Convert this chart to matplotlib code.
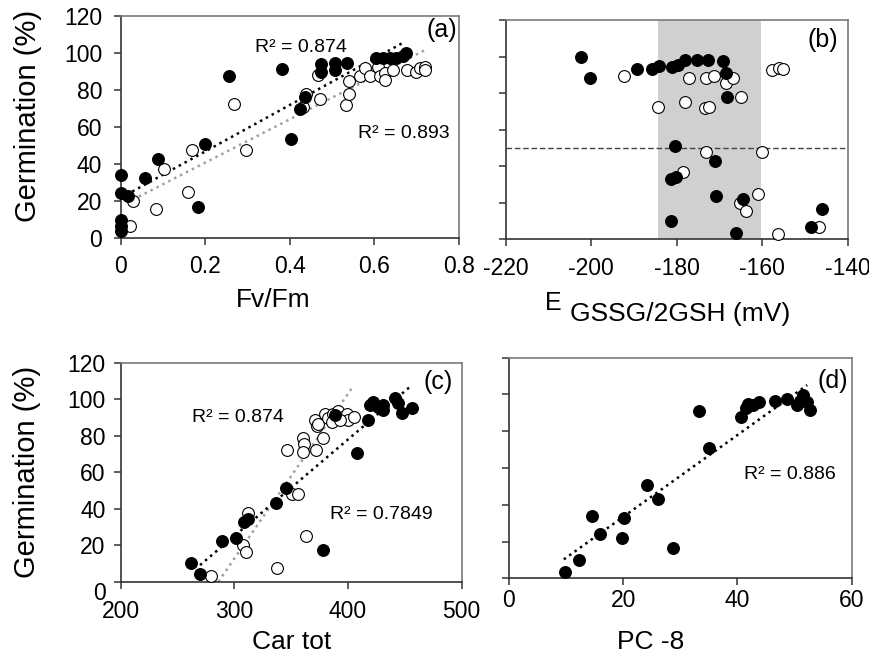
import matplotlib
matplotlib.use("Agg")
import matplotlib.pyplot as plt
import matplotlib.transforms as mtransforms

plt.rcParams['font.family'] = ['Liberation Sans', 'DejaVu Sans']
plt.rcParams['axes.unicode_minus'] = False

# ---- panel (a): Fv/Fm
a_filled_x = [0.0, 0.0, 0.016, 0.0, 0.0, 0.0, 0.057, 0.088, 0.199, 0.183, 0.256, 0.382, 0.402,
              0.423, 0.435, 0.474, 0.474, 0.506, 0.506, 0.534, 0.603, 0.620, 0.636, 0.652, 0.668, 0.675]
a_filled_y = [33.8, 24.3, 22.5, 9.9, 6.3, 3.6, 32.4, 42.6, 50.9, 16.7, 87.6, 91.2, 53.6,
              69.6, 76.1, 93.9, 90.0, 94.5, 90.9, 94.5, 97.5, 97.2, 97.2, 97.5, 98.4, 99.9]
a_open_x = [0.021, 0.028, 0.083, 0.102, 0.159, 0.169, 0.268, 0.297, 0.438, 0.431, 0.467, 0.472, 0.532, 0.540,
            0.540, 0.565, 0.577, 0.589, 0.608, 0.612, 0.624, 0.624, 0.644, 0.677, 0.698, 0.707, 0.719, 0.719]
a_open_y = [6.7, 20.2, 15.8, 37.2, 24.8, 47.3, 72.3, 47.7, 77.7, 70.7, 88.2, 75.0, 72.0, 77.9,
            84.9, 87.6, 91.8, 87.6, 92.7, 87.6, 89.1, 85.5, 90.9, 90.9, 90.0, 91.8, 92.7, 90.9]
a_fit_black_x = [0.013, 0.668]
a_fit_black_y = [23.4, 105.6]
a_fit_gray_x = [0.028, 0.723]
a_fit_gray_y = [20.7, 102.0]

# ---- panel (b): E GSSG/2GSH
b_filled_x = [-202.5, -200.3, -189.4, -185.9, -184.1, -181.2, -179.8, -178.1, -175.4, -172.7, -169.3, -168.6,
              -168.2, -180.5, -171.1, -181.4, -180.1, -170.9, -164.5, -181.4, -166.1, -148.6, -146.0]
b_filled_y = [99.9, 88.1, 93.2, 93.0, 95.0, 94.5, 95.4, 98.1, 98.1, 98.1, 97.8, 91.2,
              77.7, 51.2, 42.9, 33.0, 33.9, 23.9, 21.9, 10.2, 3.3, 6.9, 16.4]
b_open_x = [-192.3, -184.4, -178.1, -177.2, -173.5, -172.5, -173.1, -171.4, -168.6, -166.8, -164.9,
            -178.5, -173.1, -160.0, -165.3, -163.9, -161.0, -157.7, -156.1, -155.2, -156.3, -146.8]
b_open_y = [89.4, 72.2, 75.3, 88.1, 71.7, 72.2, 88.5, 89.4, 85.7, 88.1, 78.1,
            37.0, 48.0, 48.0, 19.7, 15.7, 24.8, 92.6, 93.9, 93.2, 2.7, 6.6]
b_band = [-184.3, -160.3]
b_threshold = 50

# ---- panel (c): Car tot
c_filled_x = [261.6, 269.8, 288.9, 301.5, 308.8, 312.3, 336.7, 345.2, 377.7, 388.6, 408.2,
              417.9, 419.4, 422.3, 426.7, 431.1, 431.1, 441.3, 444.3, 447.2, 456.0]
c_filled_y = [10.0, 4.2, 22.3, 24.1, 32.5, 34.3, 43.3, 51.1, 17.4, 91.3, 70.3,
              88.6, 96.8, 98.6, 95.5, 94.1, 96.8, 100.5, 97.7, 92.2, 95.0]
c_open_x = [279.2, 307.3, 310.3, 312.3, 337.8, 363.0, 346.0, 350.4, 355.7, 360.7, 361.3, 360.7, 371.8, 378.3,
            371.0, 372.4, 373.9, 379.8, 382.7, 387.1, 391.5, 395.9, 398.8, 400.3, 405.3, 385.7, 393.0]
c_open_y = [3.1, 20.1, 16.1, 37.4, 7.3, 25.0, 72.1, 48.0, 48.0, 78.5, 75.4, 71.2, 72.1, 78.5,
            88.6, 85.3, 86.4, 91.7, 89.5, 91.7, 93.7, 90.4, 91.7, 88.6, 90.0, 87.7, 88.6]
c_fit_black_x = [269.8, 454.5]
c_fit_black_y = [9.1, 106.8]
c_fit_gray_x = [285.9, 403.2]
c_fit_gray_y = [0.0, 105.9]

# ---- panel (d): PC-8
d_x = [9.8, 12.3, 14.6, 15.9, 19.7, 20.2, 24.1, 26.0, 28.8, 33.3, 35.0, 40.7,
       41.5, 41.9, 42.8, 43.8, 46.6, 48.6, 50.4, 51.0, 51.4, 52.1, 52.7]
d_y = [3.6, 10.0, 33.9, 23.9, 21.8, 32.6, 50.8, 42.9, 16.7, 91.0, 70.7, 87.7,
       92.7, 94.9, 94.5, 95.7, 96.3, 97.6, 94.0, 96.7, 99.5, 95.8, 91.6]
d_fit_x = [9.6, 52.2]
d_fit_y = [10.3, 105.1]

y_ticks = [0, 20, 40, 60, 80, 100, 120]

W, H = 870, 656


def box(left, top, right, bottom):
    return [left / W, 1 - bottom / H, (right - left) / W, (bottom - top) / H]


def style(ax, xpad, ypad):
    for s in ['left', 'bottom']:
        ax.spines[s].set_color('#333333')
        ax.spines[s].set_linewidth(1.2)
    for s in ['top', 'right']:
        ax.spines[s].set_color('#7a7a7a')
        ax.spines[s].set_linewidth(1.2)
    ax.tick_params(direction='out', length=5, width=1.1, color='#333333', labelsize=16.5)
    ax.tick_params(axis='x', pad=xpad)
    ax.tick_params(axis='y', pad=ypad)
    ax.set_ylim(0, 120)
    ax.set_yticks(y_ticks)


def dots(ax, x, y, filled):
    fc = 'black' if filled else 'white'
    ax.plot(x, y, 'o', ls='none', ms=8.5, mfc=fc, mec='black', mew=0.8, clip_on=False, zorder=4 if filled else 3)


def fit(ax, x, y, color):
    ax.plot(x, y, ls=':', lw=1.8, color=color, zorder=2)


fig = plt.figure(figsize=(8.7, 6.56), dpi=100)

# (a)
ax = fig.add_axes(box(121, 16, 459, 238))
style(ax, 7.5, 8.5)
ax.set_xlim(0, 0.8)
ax.set_xticks([0, 0.2, 0.4, 0.6, 0.8])
ax.set_xticklabels(['0', '0.2', '0.4', '0.6', '0.8'])
fit(ax, a_fit_gray_x, a_fit_gray_y, '#a0a0a0')
fit(ax, a_fit_black_x, a_fit_black_y, 'black')
dots(ax, a_open_x, a_open_y, False)
dots(ax, a_filled_x, a_filled_y, True)
ax.text(0.317, 100.8, 'R² = 0.874', fontsize=14)
ax.text(0.561, 54.3, 'R² = 0.893', fontsize=14)
ax.text(0.994, 0.905, '(a)', transform=ax.transAxes, ha='right', va='baseline', fontsize=18)
ax.set_xlabel('Fv/Fm', fontsize=19, va='baseline')
ax.xaxis.set_label_coords(0.45, -0.31)
ax.set_ylabel('Germination (%)', fontsize=21, va='baseline')
ax.yaxis.set_label_coords(-0.25, 0.552)

# (b)
ax = fig.add_axes(box(505.7, 20, 848, 239.3))
style(ax, 7.5, 5)
ax.set_yticklabels([])
ax.set_xlim(-220, -140)
ax.set_xticks([-220, -200, -180, -160, -140])
ax.axvspan(b_band[0], b_band[1], color='#d0d0d0', lw=0, zorder=0)
ax.axhline(b_threshold, color='#444444', lw=1, ls=(0, (4, 2)), zorder=1)
dots(ax, b_open_x, b_open_y, False)
dots(ax, b_filled_x, b_filled_y, True)
ax.text(0.971, 0.877, '(b)', transform=ax.transAxes, ha='right', va='baseline', fontsize=18)
fig.text(545 / W, 1 - 310 / H, 'E', fontsize=18, va='baseline')
fig.text(570 / W, 1 - 320.7 / H, 'GSSG/2GSH (mV)', fontsize=19, va='baseline')

# (c)
ax = fig.add_axes(box(120.7, 362.7, 461.7, 581.7))
style(ax, 8, 6)
ax.set_xlim(200, 500)
ax.set_xticks([200, 300, 400, 500])
fit(ax, c_fit_gray_x, c_fit_gray_y, '#a0a0a0')
fit(ax, c_fit_black_x, c_fit_black_y, 'black')
dots(ax, c_open_x, c_open_y, False)
dots(ax, c_filled_x, c_filled_y, True)
ax.text(262.5, 87.7, 'R² = 0.874', fontsize=14)
ax.text(384.2, 34.2, 'R² = 0.7849', fontsize=14)
ax.text(0.975, 0.88, '(c)', transform=ax.transAxes, ha='right', va='baseline', fontsize=18)
ax.set_xlabel('Car tot', fontsize=19, va='baseline')
ax.xaxis.set_label_coords(0.5, -0.308)
ax.set_ylabel('Germination (%)', fontsize=21, va='baseline')
ax.yaxis.set_label_coords(-0.25, 0.5)
# the zero label sits a bit lower in the original
zero = ax.get_yticklabels()[0]
zero.set_transform(zero.get_transform() + mtransforms.ScaledTranslation(0, -0.09, fig.dpi_scale_trans))

# (d)
ax = fig.add_axes(box(509, 357.7, 851.7, 578.3))
style(ax, 3, 5)
ax.set_yticklabels([])
ax.set_xlim(0, 60)
ax.set_xticks([0, 20, 40, 60])
fit(ax, d_fit_x, d_fit_y, 'black')
dots(ax, d_x, d_y, True)
ax.text(41.2, 53.8, 'R² = 0.886', fontsize=14)
ax.text(0.99, 0.863, '(d)', transform=ax.transAxes, ha='right', va='baseline', fontsize=18)
ax.set_xlabel('PC -8', fontsize=19, va='baseline')
ax.xaxis.set_label_coords(0.413, -0.32)

fig.savefig('out.png', dpi=100)
